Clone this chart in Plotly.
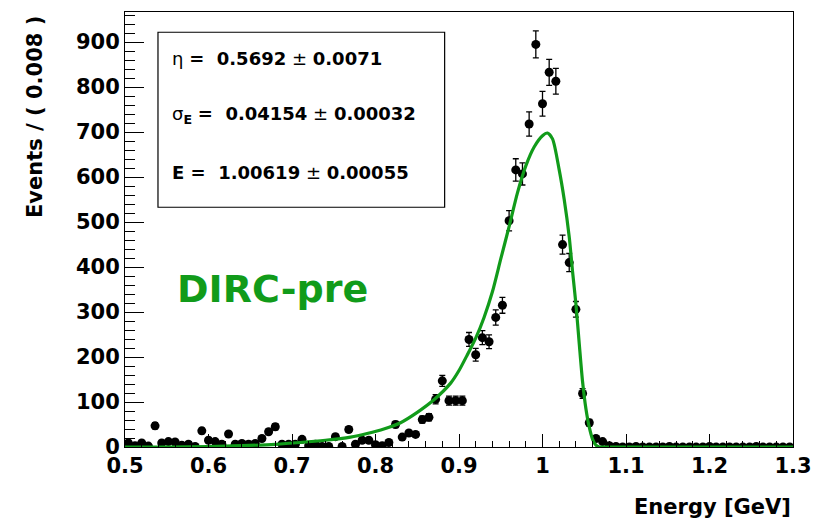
import plotly.graph_objects as go

# ---- data ----
bin_centers = [round(0.504 + 0.008 * i, 3) for i in range(100)]
counts = [9, 3, 9, 2, 47, 9, 12, 11, 4, 6,
          1, 36, 15, 12, 6, 29, 6, 8, 6, 8,
          19, 34, 45, 6, 6, 6, 17, 3, 6, 1,
          1, 23, 1, 39, 6, 15, 15, 5, 3, 10,
          50, 22, 31, 28, 61, 66, 106, 147, 103, 103,
          103, 239, 205, 243, 234, 288, 315, 503, 616, 607,
          718, 895, 763, 833, 813, 450, 410, 306, 119, 54,
          19, 12, 3, 1, 0, 0, 1, 0, 0, 0,
          0, 1, 0, 0, 0, 0, 0, 1, 0, 0,
          0, 0, 0, 0, 1, 0, 0, 0, 0, 0]
errors = [3, 1.7, 3, 1.4, 6.9, 3, 3.5, 3.3, 2, 2.4,
          1, 6, 3.9, 3.5, 2.4, 5.4, 2.4, 2.8, 2.4, 2.8,
          4.4, 5.8, 6.7, 2.4, 2.4, 2.4, 4.1, 1.7, 2.4, 1,
          1, 4.8, 1, 6.2, 2.4, 3.9, 3.9, 2.2, 1.7, 3.2,
          7.1, 4.7, 5.6, 5.3, 7.8, 8.1, 10.3, 12.1, 10.1, 10.1,
          10.1, 15.5, 14.3, 15.6, 15.3, 17, 17.7, 22.4, 24.8, 24.6,
          26.8, 29.9, 27.6, 28.9, 28.5, 21.2, 20.2, 17.5, 10.9, 7.3,
          4.4, 3.5, 1.7, 1, 0, 0, 1, 0, 0, 0,
          0, 1, 0, 0, 0, 0, 0, 1, 0, 0,
          0, 0, 0, 0, 1, 0, 0, 0, 0, 0]

fit_x = [0.50, 0.55, 0.60, 0.64, 0.68, 0.71, 0.74, 0.77, 0.79, 0.81,
         0.83, 0.85, 0.87, 0.89, 0.90, 0.91, 0.92, 0.93, 0.94, 0.95,
         0.96, 0.97, 0.98, 0.99, 1.00, 1.006, 1.012, 1.020, 1.026, 1.032,
         1.036, 1.040, 1.044, 1.048, 1.052, 1.056, 1.060, 1.064, 1.068, 1.08,
         1.15, 1.30]
fit_y = [0, 0, 1, 3, 6, 10, 15, 22, 30, 40,
         54, 77, 105, 142, 170, 205, 242, 288, 345, 418,
         490, 565, 625, 667, 692, 698, 685, 616, 550, 467,
         390, 318, 230, 145, 85, 44, 17, 4, 0, 0,
         0, 0]

fit_params = ["\u03b7 <b>=  0.5692</b> \u00b1 <b>0.0071</b>",
              "\u03c3<sub><b>E</b></sub> <b>=  0.04154</b> \u00b1 <b>0.00032</b>",
              "<b>E =  1.00619</b> \u00b1 <b>0.00055</b>"]
label_text = "DIRC-pre"

FONT = "DejaVu Sans"
GREEN = "#119b1a"

fig = go.Figure()

fig.add_trace(go.Scatter(
    x=bin_centers, y=counts, mode="markers",
    marker=dict(color="black", size=9),
    error_y=dict(type="data", array=errors, visible=True,
                 color="black", thickness=1.3, width=3),
    showlegend=False, cliponaxis=True,
))

fig.add_trace(go.Scatter(
    x=fit_x, y=fit_y, mode="lines",
    line=dict(color=GREEN, width=3.2, shape="spline", smoothing=0.7),
    showlegend=False,
))

# stats box
fig.add_shape(type="rect", xref="x", yref="y",
              x0=0.5395, x1=0.8828, y0=533, y1=922,
              line=dict(color="black", width=1.2), fillcolor="white",
              layer="above")

for txt, yv in zip(fit_params, [864, 738, 611]):
    fig.add_annotation(x=0.5538, y=yv, xref="x", yref="y", text=txt,
                       showarrow=False, xanchor="left", yanchor="middle",
                       font=dict(family=FONT, size=18, color="black"))

fig.add_annotation(x=0.560, y=351, xref="x", yref="y", text="<b>" + label_text + "</b>",
                   showarrow=False, xanchor="left", yanchor="middle",
                   font=dict(family=FONT, size=38, color=GREEN))

# axis titles
fig.add_annotation(x=-0.135, y=0.995, xref="paper", yref="paper",
                   text="<b>Events / ( 0.008 )</b>", textangle=-90,
                   showarrow=False, xanchor="center", yanchor="top",
                   font=dict(family=FONT, size=21, color="black"))
fig.add_annotation(x=1.0, y=-0.138, xref="paper", yref="paper",
                   text="<b>Energy [GeV]</b>",
                   showarrow=False, xanchor="right", yanchor="middle",
                   font=dict(family=FONT, size=21, color="black"))

fig.update_layout(
    width=829, height=523,
    margin=dict(l=125, r=36, t=12, b=76),
    paper_bgcolor="white", plot_bgcolor="white",
    font=dict(family=FONT, color="black"),
)

fig.update_xaxes(
    range=[0.5, 1.3], tickmode="array",
    tickvals=[0.5, 0.6, 0.7, 0.8, 0.9, 1.0, 1.1, 1.2, 1.3],
    ticktext=["<b>0.5</b>", "<b>0.6</b>", "<b>0.7</b>", "<b>0.8</b>", "<b>0.9</b>",
              "<b>1</b>", "<b>1.1</b>", "<b>1.2</b>", "<b>1.3</b>"],
    ticks="inside", ticklen=13, tickwidth=1, tickcolor="black",
    minor=dict(ticks="inside", ticklen=6, dtick=0.02, tick0=0.5, tickcolor="black"),
    showline=True, linecolor="black", linewidth=1, mirror=True,
    showgrid=False, zeroline=False,
    tickfont=dict(family=FONT, size=21, color="black"),
)
fig.update_yaxes(
    range=[0, 967], tickmode="array",
    tickvals=[0, 100, 200, 300, 400, 500, 600, 700, 800, 900],
    ticktext=["<b>%d</b>" % v for v in [0, 100, 200, 300, 400, 500, 600, 700, 800, 900]],
    ticks="inside", ticklen=19, tickwidth=1, tickcolor="black",
    minor=dict(ticks="inside", ticklen=10, dtick=20, tick0=0, tickcolor="black"),
    showline=True, linecolor="black", linewidth=1, mirror=True,
    showgrid=False, zeroline=False,
    tickfont=dict(family=FONT, size=21, color="black"),
)

fig.write_html("out.html")
